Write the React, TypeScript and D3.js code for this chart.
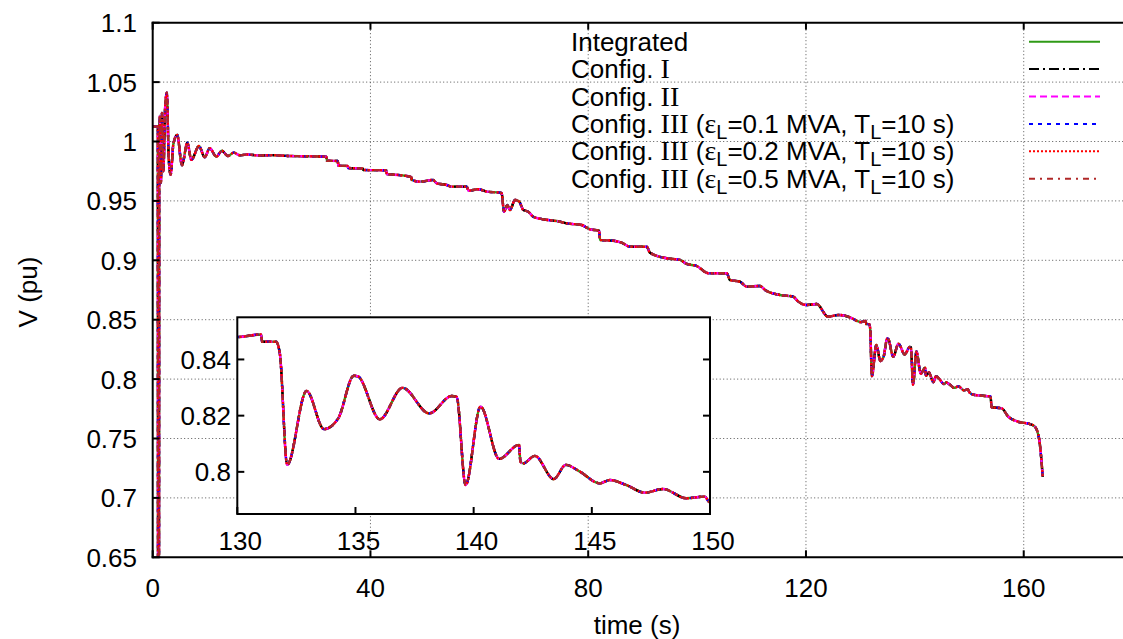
import React from "react";
import * as d3 from "d3";

// ---- data ----
const timeS = [
  0, 0.95, 1.0, 1.12, 1.2, 1.35, 1.5, 1.7, 1.95, 2.3, 2.6, 2.95, 3.3, 3.8, 4.5, 5.38, 6.36, 7.1, 8.5, 9.55,
  10.47, 11.7, 12.7, 13.8, 14.9, 16.0, 17.5, 19.5, 22, 25, 28, 31.9, 32.0, 34.0, 34.1, 35.8, 35.9, 38.6, 38.7,
  42.9, 43.0, 45.4, 47.5, 47.6, 49.1, 51.5, 52.2, 54.0, 54.9, 57.7, 58.0, 59.8, 61.35, 63.8, 64.1, 64.53,
  65.14, 65.63, 66.55, 67.34, 68.08, 69.0, 69.91, 71.75, 74.21, 76.05, 78.8, 80.33, 82.0, 82.17, 84.6, 86.15,
  87.67, 90.74, 91.35, 94.41, 96.86, 98.09, 99.93, 102.06, 105.44, 106.05, 107.89, 109.11, 111.56, 112.48,
  115.23, 117.67, 118.59, 120.13, 121.97, 124.05, 125.94, 128.09, 129.6, 130.0, 131.0, 131.05, 131.64, 131.8,
  132.11, 132.93, 133.67, 134.27, 134.93, 135.1, 136.03, 136.99, 138.12, 139.07, 139.28, 139.66, 140.29,
  141.08, 141.92, 141.98, 142.1, 142.59, 143.39, 143.9, 144.49, 145.34, 145.76, 146.46, 147.24, 148.01,
  149.0, 149.78, 149.95, 150.6, 152.88, 153.9, 154.11, 155.95, 157.17, 159.0, 161.15, 162.07, 162.86, 163.49,
];
const voltagePu = [
  1.0125, 1.0125, 0.35, 0.35, 0.985, 1.022, 0.965, 1.024, 0.975, 1.03, 1.041, 0.985, 0.972, 0.998, 1.0055,
  0.98, 0.999, 0.9845, 0.9962, 0.9867, 0.9943, 0.9872, 0.9922, 0.9878, 0.9906, 0.9884, 0.989, 0.9882, 0.9885,
  0.9878, 0.9876, 0.9872, 0.9838, 0.9836, 0.9796, 0.9794, 0.9777, 0.9772, 0.976, 0.9758, 0.9726, 0.9717,
  0.97, 0.9676, 0.9662, 0.9676, 0.9648, 0.9634, 0.962, 0.962, 0.9586, 0.9598, 0.9578, 0.9569, 0.9564, 0.9409,
  0.9465, 0.9423, 0.9508, 0.9493, 0.9423, 0.9409, 0.9367, 0.9345, 0.9331, 0.9311, 0.9297, 0.9261, 0.925,
  0.9171, 0.9165, 0.9148, 0.9114, 0.9114, 0.9064, 0.9017, 0.9003, 0.8969, 0.8952, 0.8891, 0.8891, 0.8834,
  0.882, 0.8778, 0.8784, 0.8751, 0.8708, 0.8694, 0.8652, 0.8624, 0.8632, 0.8525, 0.854, 0.852, 0.8485, 0.848,
  0.8489, 0.8463, 0.8463, 0.8421, 0.8025, 0.8288, 0.8152, 0.819, 0.8342, 0.834, 0.8187, 0.8299, 0.8208,
  0.827, 0.8267, 0.7953, 0.8232, 0.8046, 0.8096, 0.8036, 0.803, 0.8057, 0.7974, 0.8025, 0.8001, 0.7959,
  0.7971, 0.7953, 0.7926, 0.7939, 0.7906, 0.7912, 0.7894, 0.787, 0.7858, 0.7855, 0.7763, 0.7754, 0.7684,
  0.7641, 0.7622, 0.7599, 0.7487, 0.7178,
];

const seriesColors = ["#2f9a16", "#000000", "#ff00ff", "#0000ff", "#ff0000", "#b02828"];
const seriesDashes = ["none", "10,4,2,4", "7,4", "4,5", "2,2", "6,5,2,5"];

type Seg = { t: string; serif?: boolean; sub?: boolean };
const legendLabels: Seg[][] = [
  [{ t: "Integrated" }],
  [{ t: "Config. " }, { t: "I", serif: true }],
  [{ t: "Config. " }, { t: "II", serif: true }],
  [{ t: "Config. " }, { t: "III", serif: true }, { t: " (" }, { t: "ε", serif: true }, { t: "L", sub: true }, { t: "=0.1 MVA, T" }, { t: "L", sub: true }, { t: "=10 s)" }],
  [{ t: "Config. " }, { t: "III", serif: true }, { t: " (" }, { t: "ε", serif: true }, { t: "L", sub: true }, { t: "=0.2 MVA, T" }, { t: "L", sub: true }, { t: "=10 s)" }],
  [{ t: "Config. " }, { t: "III", serif: true }, { t: " (" }, { t: "ε", serif: true }, { t: "L", sub: true }, { t: "=0.5 MVA, T" }, { t: "L", sub: true }, { t: "=10 s)" }],
];

const xTickValues = [0, 40, 80, 120, 160];
const yTickValues = [0.65, 0.7, 0.75, 0.8, 0.85, 0.9, 0.95, 1.0, 1.05, 1.1];
const yTickLabels = ["0.65", "0.7", "0.75", "0.8", "0.85", "0.9", "0.95", "1", "1.05", "1.1"];
const insetXTicks = [130, 135, 140, 145, 150];
const insetYTicks = [0.8, 0.82, 0.84];
const insetYLabels = ["0.8", "0.82", "0.84"];

const W = 1123;
const H = 639;
const FONT = "'Liberation Sans', Arial, Helvetica, sans-serif";
const SERIF = "'Liberation Serif', 'Times New Roman', serif";
const FS = 26;
const LFS = 26;

export default function App() {
  const data = timeS.map((t, i) => ({ t, v: voltagePu[i] }));

  const x = d3.scaleLinear().domain([0, 180]).range([152.7, 1132.6]);
  const y = d3.scaleLinear().domain([0.65, 1.1]).range([557.3, 22.7]);
  const left = x(0), right = x(180), top = y(1.1), bottom = y(0.65);

  const ix = d3.scaleLinear().domain([130, 150]).range([237.3, 710]);
  const iy = d3.scaleLinear().domain([0.785, 0.855]).range([514, 317.3]);

  const mainLine = d3
    .line<{ t: number; v: number }>()
    .x((d) => x(d.t))
    .y((d) => y(d.v))
    .curve(d3.curveMonotoneX);
  const insetData = data.filter((d) => d.t >= 129 && d.t <= 151);
  const insetLine = d3
    .line<{ t: number; v: number }>()
    .x((d) => ix(d.t))
    .y((d) => iy(d.v))
    .curve(d3.curveMonotoneX);

  const mainPath = mainLine(data) || "";
  const insetPath = insetLine(insetData) || "";
  const gridStyle = { stroke: "#555", strokeWidth: 1, strokeDasharray: "1,2.5" };

  const legendX = 571;
  const legendRowY = (i: number) => 41.7 + i * 27.4;

  return (
    <svg
      width={W}
      height={H}
      style={{ position: "absolute", left: 0, top: 0, background: "#fff" }}
      fontFamily={FONT}
    >
      <defs>
        <clipPath id="mainClip">
          <rect x={left} y={top} width={right - left} height={bottom - top} />
        </clipPath>
        <clipPath id="insetClip">
          <rect x={ix(130)} y={iy(0.855)} width={ix(150) - ix(130)} height={iy(0.785) - iy(0.855)} />
        </clipPath>
      </defs>
      <rect x={0} y={0} width={W} height={H} fill="#fff" />

      {/* grid */}
      {xTickValues.filter((v) => v > 0).map((v) => (
        <line key={"gx" + v} x1={x(v)} x2={x(v)} y1={top} y2={bottom} {...gridStyle} />
      ))}
      {yTickValues.filter((v) => v > 0.65 && v < 1.1).map((v) => (
        <line key={"gy" + v} x1={left} x2={right} y1={y(v)} y2={y(v)} {...gridStyle} />
      ))}

      {/* main series */}
      <g clipPath="url(#mainClip)" fill="none">
        {seriesColors.map((c, i) => (
          <path
            key={"s" + i}
            d={mainPath}
            stroke={c}
            strokeWidth={2.4}
            strokeDasharray={seriesDashes[i] === "none" ? undefined : seriesDashes[i]}
            strokeLinejoin="round"
          />
        ))}
      </g>

      {/* main frame */}
      <g stroke="#000" strokeWidth={2} fill="none">
        <line x1={left} x2={left} y1={top - 1} y2={bottom + 1} />
        <line x1={left - 1} x2={right} y1={bottom} y2={bottom} />
        <line x1={left - 1} x2={right} y1={top} y2={top} />
        {xTickValues.map((v) => (
          <g key={"tx" + v}>
            <line x1={x(v)} x2={x(v)} y1={bottom} y2={bottom - 7} />
            <line x1={x(v)} x2={x(v)} y1={top} y2={top + 7} />
          </g>
        ))}
        {yTickValues.map((v) => (
          <line key={"ty" + v} x1={left} x2={left + 7} y1={y(v)} y2={y(v)} />
        ))}
      </g>

      {/* tick labels */}
      {xTickValues.map((v) => (
        <text key={"lx" + v} x={x(v)} y={597} fontSize={FS} textAnchor="middle" fill="#000">
          {String(v)}
        </text>
      ))}
      {yTickValues.map((v, i) => (
        <text key={"ly" + v} x={137} y={y(v) + 9.5} fontSize={FS} textAnchor="end" fill="#000">
          {yTickLabels[i]}
        </text>
      ))}

      {/* axis titles */}
      <text x={637} y={634} fontSize={FS} textAnchor="middle" fill="#000">
        time (s)
      </text>
      <text
        transform={`translate(37,${292}) rotate(-90)`}
        fontSize={FS}
        textAnchor="middle"
        fill="#000"
      >
        V (pu)
      </text>

      {/* legend */}
      {legendLabels.map((segs, i) => {
        const cy = legendRowY(i);
        return (
          <g key={"lg" + i}>
            <text x={legendX} y={cy + 9} fontSize={LFS} fill="#000">
              {segs.map((s, j) => {
                const prevSub = j > 0 && segs[j - 1].sub;
                let dy: number | undefined = undefined;
                if (s.sub) dy = 6;
                else if (prevSub) dy = -6;
                return (
                  <tspan
                    key={j}
                    dy={dy}
                    fontFamily={s.serif ? SERIF : undefined}
                    fontSize={s.sub ? 20 : s.serif ? 28 : undefined}
                  >
                    {s.t}
                  </tspan>
                );
              })}
            </text>
            <line
              x1={1029}
              x2={1100}
              y1={cy}
              y2={cy}
              stroke={seriesColors[i]}
              strokeWidth={2}
              strokeDasharray={seriesDashes[i] === "none" ? undefined : seriesDashes[i]}
            />
          </g>
        );
      })}

      {/* inset */}
      <rect
        x={ix(130)}
        y={iy(0.855)}
        width={ix(150) - ix(130)}
        height={iy(0.785) - iy(0.855)}
        fill="#fff"
      />
      <g clipPath="url(#insetClip)" fill="none">
        {seriesColors.map((c, i) => (
          <path
            key={"is" + i}
            d={insetPath}
            stroke={c}
            strokeWidth={2.4}
            strokeDasharray={seriesDashes[i] === "none" ? undefined : seriesDashes[i]}
            strokeLinejoin="round"
          />
        ))}
      </g>
      <g stroke="#000" strokeWidth={2} fill="none">
        <rect
          x={ix(130)}
          y={iy(0.855)}
          width={ix(150) - ix(130)}
          height={iy(0.785) - iy(0.855)}
        />
        {insetXTicks.map((v) => (
          <line key={"itx" + v} x1={ix(v)} x2={ix(v)} y1={iy(0.785)} y2={iy(0.785) - 7} />
        ))}
        {insetYTicks.map((v) => (
          <g key={"ity" + v}>
            <line x1={ix(130)} x2={ix(130) + 7} y1={iy(v)} y2={iy(v)} />
            <line x1={ix(150)} x2={ix(150) - 7} y1={iy(v)} y2={iy(v)} />
          </g>
        ))}
      </g>
      {insetXTicks.map((v) => (
        <text key={"ilx" + v} x={ix(v) + 3} y={550} fontSize={FS} textAnchor="middle" fill="#000">
          {String(v)}
        </text>
      ))}
      {insetYTicks.map((v, i) => (
        <text key={"ily" + v} x={231} y={iy(v) + 9.5} fontSize={FS} textAnchor="end" fill="#000">
          {insetYLabels[i]}
        </text>
      ))}
    </svg>
  );
}
